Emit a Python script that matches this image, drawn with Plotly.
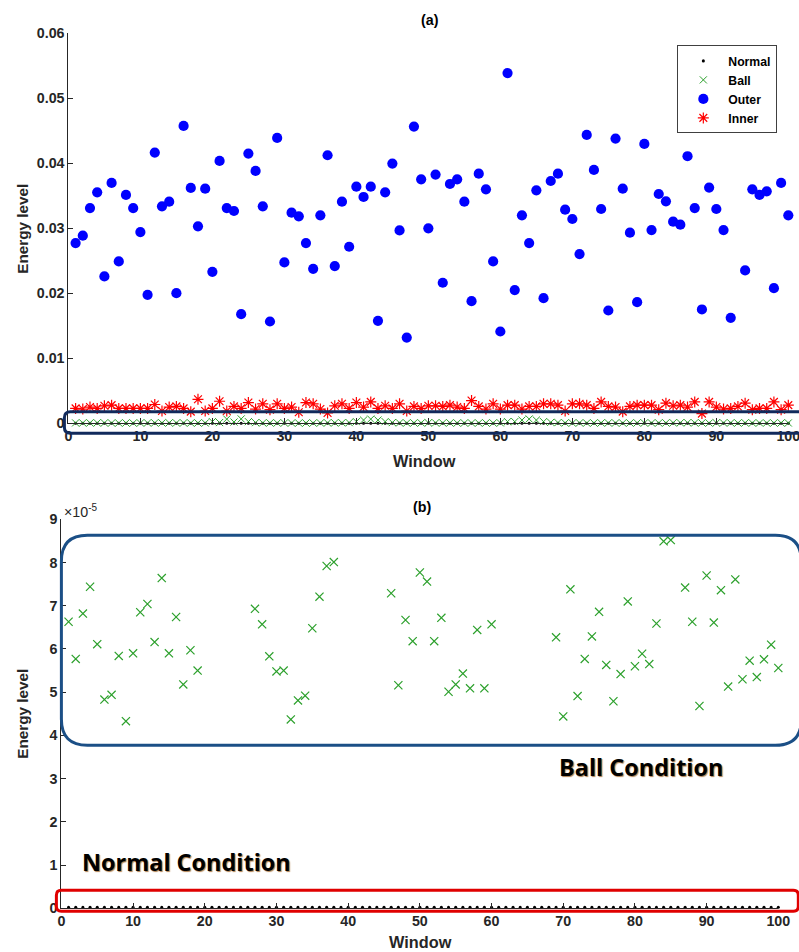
import plotly.graph_objects as go

# Measured page->photo mapping of the viewer: photo = A * page + B.
# Layout coordinates below are given in photo pixels (as read from the reference)
# and converted back to page pixels.
AX, BX = 0.9804, 3.6
AY, BY = 0.9835, 7.6
W, H = 812, 961          # page / figure size in CSS pixels
S = 1 / AX               # size compensation

windows = list(range(1, 101))

normal = [2.1e-7, 2.3e-7, 2.0e-7, 2.2e-7, 2.4e-7, 2.1e-7, 2.2e-7, 2.0e-7, 2.3e-7, 2.1e-7,
          2.2e-7, 2.4e-7, 2.1e-7, 2.0e-7, 2.2e-7, 2.3e-7, 2.1e-7, 2.2e-7, 2.0e-7, 2.4e-7,
          2.2e-7, 2.1e-7, 2.3e-7, 2.0e-7, 2.2e-7, 2.1e-7, 2.4e-7, 2.2e-7, 2.0e-7, 2.3e-7,
          2.1e-7, 2.2e-7, 2.0e-7, 2.3e-7, 2.1e-7, 2.2e-7, 2.4e-7, 2.1e-7, 2.0e-7, 2.2e-7,
          2.3e-7, 2.1e-7, 2.2e-7, 2.0e-7, 2.4e-7, 2.2e-7, 2.1e-7, 2.3e-7, 2.0e-7, 2.2e-7,
          2.1e-7, 2.4e-7, 2.2e-7, 2.0e-7, 2.3e-7, 2.1e-7, 2.2e-7, 2.0e-7, 2.3e-7, 2.1e-7,
          2.2e-7, 2.4e-7, 2.1e-7, 2.0e-7, 2.2e-7, 2.3e-7, 2.1e-7, 2.2e-7, 2.0e-7, 2.4e-7,
          2.2e-7, 2.1e-7, 2.3e-7, 2.0e-7, 2.2e-7, 2.1e-7, 2.4e-7, 2.2e-7, 2.0e-7, 2.3e-7,
          2.1e-7, 2.2e-7, 2.0e-7, 2.3e-7, 2.1e-7, 2.2e-7, 2.4e-7, 2.1e-7, 2.0e-7, 2.2e-7,
          2.3e-7, 2.1e-7, 2.2e-7, 2.0e-7, 2.4e-7, 2.2e-7, 2.1e-7, 2.3e-7, 2.0e-7, 2.2e-7]

# Ball energy, in units of 1e-5
ball_x1e5 = [6.63, 5.77, 6.82, 7.44, 6.11, 4.83, 4.94, 5.84, 4.33, 5.90,
             6.85, 7.04, 6.16, 7.64, 5.90, 6.74, 5.18, 5.97, 5.50, 26.0,
             12.0, 65.0, 20.0, 68.0, 26.0, 11.0, 6.93, 6.57, 5.83, 5.48,
             5.50, 4.37, 4.81, 4.92, 6.48, 7.21, 7.92, 8.01, 11.0, 26.0,
             50.0, 65.0, 50.0, 26.0, 12.0, 7.29, 5.16, 6.67, 6.18, 7.77,
             7.56, 6.18, 6.72, 5.01, 5.18, 5.43, 5.09, 6.44, 5.09, 6.57,
             26.0, 26.0, 50.0, 67.0, 50.0, 26.0, 15.0, 11.0, 6.27, 4.44,
             7.38, 4.91, 5.77, 6.29, 6.86, 5.63, 4.79, 5.42, 7.10, 5.60,
             5.89, 5.65, 6.59, 8.49, 8.52, 9.50, 7.42, 6.63, 4.68, 7.70,
             6.61, 7.36, 5.13, 7.61, 5.30, 5.73, 5.35, 5.76, 6.10, 5.56]

outer = [0.02774, 0.02887, 0.03313, 0.03555, 0.02260, 0.03699, 0.02491, 0.03514, 0.03313, 0.02943,
         0.01978, 0.04166, 0.03339, 0.03411, 0.02003, 0.04577, 0.03622, 0.03031, 0.03611, 0.02332,
         0.04038, 0.03313, 0.03267, 0.01680, 0.04151, 0.03884, 0.03339, 0.01567, 0.04392, 0.02476,
         0.03241, 0.03185, 0.02774, 0.02378, 0.03200, 0.04125, 0.02420, 0.03411, 0.02717, 0.03642,
         0.03483, 0.03642, 0.01577, 0.03555, 0.03997, 0.02969, 0.01320, 0.04567, 0.03755, 0.03000,
         0.03827, 0.02163, 0.03683, 0.03755, 0.03411, 0.01880, 0.03842, 0.03601, 0.02491, 0.01413,
         0.05389, 0.02050, 0.03200, 0.02774, 0.03586, 0.01926, 0.03729, 0.03842, 0.03288, 0.03144,
         0.02604, 0.04438, 0.03899, 0.03298, 0.01736, 0.04382, 0.03611, 0.02933, 0.01865, 0.04300,
         0.02974, 0.03529, 0.03416, 0.03103, 0.03057, 0.04110, 0.03313, 0.01752, 0.03627, 0.03298,
         0.02974, 0.01623, 0.05200, 0.02353, 0.03601, 0.03514, 0.03570, 0.02080, 0.03699, 0.03200]

inner = [0.0023, 0.0022, 0.0025, 0.0023, 0.0027, 0.0028, 0.0023, 0.0023, 0.0023, 0.0023,
         0.0023, 0.0029, 0.0019, 0.0025, 0.0026, 0.0023, 0.0018, 0.0037, 0.0019, 0.0023,
         0.0034, 0.0019, 0.0026, 0.0023, 0.0032, 0.0022, 0.0030, 0.0021, 0.0030, 0.0023,
         0.0025, 0.0017, 0.0032, 0.0030, 0.0022, 0.0016, 0.0027, 0.0030, 0.0023, 0.0032,
         0.0025, 0.0033, 0.0023, 0.0027, 0.0023, 0.0030, 0.0019, 0.0026, 0.0023, 0.0027,
         0.0027, 0.0026, 0.0028, 0.0025, 0.0023, 0.0035, 0.0026, 0.0022, 0.0030, 0.0022,
         0.0028, 0.0028, 0.0022, 0.0026, 0.0026, 0.0030, 0.0030, 0.0028, 0.0019, 0.0030,
         0.0030, 0.0028, 0.0023, 0.0033, 0.0026, 0.0025, 0.0018, 0.0026, 0.0028, 0.0028,
         0.0028, 0.0021, 0.0031, 0.0027, 0.0028, 0.0025, 0.0033, 0.0015, 0.0033, 0.0025,
         0.0022, 0.0023, 0.0026, 0.0031, 0.0021, 0.0023, 0.0023, 0.0033, 0.0021, 0.0028]

x_ticks = [0, 10, 20, 30, 40, 50, 60, 70, 80, 90, 100]
top_y_ticks = [0, 0.01, 0.02, 0.03, 0.04, 0.05, 0.06]
top_y_text = ["0", "0.01", "0.02", "0.03", "0.04", "0.05", "0.06"]
bot_y_ticks = [0, 1e-5, 2e-5, 3e-5, 4e-5, 5e-5, 6e-5, 7e-5, 8e-5, 9e-5]
bot_y_text = ["0", "1", "2", "3", "4", "5", "6", "7", "8", "9"]

ball = [v * 1e-5 for v in ball_x1e5]
bot_ymax = 9e-5
ball_bottom = [v if v <= bot_ymax else None for v in ball]

GREEN = "#2ca02c"
AXCOL = "#262626"
TICKFONT = dict(family="Liberation Sans", size=14 * S, color=AXCOL, weight="bold")


def px_x(p):
    return ((p - BX) / AX) / W


def px_y(p):
    return 1 - ((p - BY) / AY) / H


fig = go.Figure()

# ---- top panel (a)
fig.add_trace(go.Scatter(x=windows, y=normal, mode="markers", name="Normal",
                         marker=dict(symbol="circle", size=3 * S, color="black"),
                         xaxis="x", yaxis="y", cliponaxis=False))
fig.add_trace(go.Scatter(x=windows, y=ball, mode="markers", name="Ball",
                         marker=dict(symbol="x-thin-open", size=7 * S, color=GREEN,
                                     line=dict(color=GREEN, width=1)),
                         xaxis="x", yaxis="y", cliponaxis=False))
fig.add_trace(go.Scatter(x=windows, y=outer, mode="markers", name="Outer",
                         marker=dict(symbol="circle", size=10 * S, color="#0000ff"),
                         xaxis="x", yaxis="y", cliponaxis=False))
fig.add_trace(go.Scatter(x=windows, y=inner, mode="markers", name="Inner",
                         marker=dict(symbol="asterisk-open", size=9 * S, color="red",
                                     line=dict(color="red", width=1.2)),
                         xaxis="x", yaxis="y", cliponaxis=False))

# ---- bottom panel (b)
fig.add_trace(go.Scatter(x=windows, y=normal, mode="markers", showlegend=False,
                         marker=dict(symbol="circle", size=3 * S, color="black"),
                         xaxis="x2", yaxis="y2", cliponaxis=False))
fig.add_trace(go.Scatter(x=windows, y=ball_bottom, mode="markers", showlegend=False,
                         marker=dict(symbol="x-thin-open", size=8 * S, color=GREEN,
                                     line=dict(color=GREEN, width=1.2)),
                         xaxis="x2", yaxis="y2", cliponaxis=False))

axis_common = dict(showgrid=False, zeroline=False, showline=True, linecolor=AXCOL,
                   linewidth=1, ticks="inside", ticklen=5, tickcolor=AXCOL,
                   tickfont=TICKFONT, mirror=False)

fig.update_layout(
    width=W, height=H,
    margin=dict(l=0, r=0, t=0, b=0),
    paper_bgcolor="white", plot_bgcolor="white",
    hovermode=False,
    xaxis=dict(domain=[px_x(68), px_x(788)], range=[0, 100], anchor="y",
               tickvals=x_ticks, **axis_common),
    yaxis=dict(domain=[px_y(423), px_y(33)], range=[0, 0.06], anchor="x",
               tickvals=top_y_ticks, ticktext=top_y_text, **axis_common),
    xaxis2=dict(domain=[px_x(61), px_x(778)], range=[0, 100], anchor="y2",
                tickvals=x_ticks, **axis_common),
    yaxis2=dict(domain=[px_y(908), px_y(519)], range=[0, bot_ymax], anchor="x2",
                tickvals=bot_y_ticks, ticktext=bot_y_text, **axis_common),
    legend=dict(x=px_x(677), y=px_y(45), xanchor="left", yanchor="top",
                bgcolor="white", bordercolor="#404040", borderwidth=1,
                font=dict(family="Liberation Sans", size=12 * S, color="black", weight="bold"),
                itemwidth=40, tracegroupgap=0),
    showlegend=True,
)


def rrect(x0, y0, x1, y1, r):
    rx, ry = (r / AX) / W, (r / AY) / H
    X0, X1 = px_x(x0), px_x(x1)
    Y0, Y1 = px_y(y0), px_y(y1)  # Y0 top (larger), Y1 bottom
    return (f"M {X0+rx},{Y0} L {X1-rx},{Y0} Q {X1},{Y0} {X1},{Y0-ry} "
            f"L {X1},{Y1+ry} Q {X1},{Y1} {X1-rx},{Y1} L {X0+rx},{Y1} "
            f"Q {X0},{Y1} {X0},{Y1+ry} L {X0},{Y0-ry} Q {X0},{Y0} {X0+rx},{Y0} Z")


shapes = [
    dict(type="path", xref="paper", yref="paper", path=rrect(64, 411.5, 806, 433, 6),
         line=dict(color="#112a5c", width=3)),
    dict(type="path", xref="paper", yref="paper", path=rrect(61, 535, 801, 745, 26),
         line=dict(color="#1b4f86", width=3)),
    dict(type="path", xref="paper", yref="paper", path=rrect(56, 890, 798, 911, 5),
         line=dict(color="#e00000", width=3)),
]
fig.update_layout(shapes=shapes)

lab = dict(family="Liberation Sans", size=15 * S, color=AXCOL, weight="bold")
shadow_font = dict(family="Open Sans", size=23 * S, color="black", weight="bold",
                   shadow="1px 1px 1px #b08050")
C = dict(xref="paper", yref="paper", showarrow=False, xanchor="center", yanchor="middle")
ann = [
    dict(text="(a)", x=px_x(430), y=px_y(20), **C,
         font=dict(family="Liberation Sans", size=14 * S, color="black", weight="bold")),
    dict(text="(b)", x=px_x(422), y=px_y(507), **C,
         font=dict(family="Liberation Sans", size=14 * S, color="black", weight="bold")),
    dict(text="Energy level", x=px_x(22), y=px_y(228), textangle=-90, font=lab, **C),
    dict(text="Energy level", x=px_x(22), y=px_y(713), textangle=-90, font=lab, **C),
    dict(text="Window", x=px_x(424), y=px_y(461), **C,
         font=dict(family="Liberation Sans", size=16 * S, color=AXCOL, weight="bold")),
    dict(text="Window", x=px_x(420), y=px_y(942), **C,
         font=dict(family="Liberation Sans", size=16 * S, color=AXCOL, weight="bold")),
    dict(text="×10<sup>-5</sup>", x=px_x(62), y=px_y(511), xref="paper", yref="paper",
         xanchor="left", yanchor="middle", showarrow=False,
         font=dict(family="Liberation Sans", size=14 * S, color=AXCOL)),
    dict(text="Ball Condition", x=px_x(641), y=px_y(767), font=shadow_font, **C),
    dict(text="Normal Condition", x=px_x(186), y=px_y(862), font=shadow_font, **C),
]
fig.update_layout(annotations=ann)

fig.write_html(
    "out.html",
    config={"displayModeBar": False, "staticPlot": True},
    post_script="document.body.style.margin='0';document.body.style.overflow='hidden';",
)
